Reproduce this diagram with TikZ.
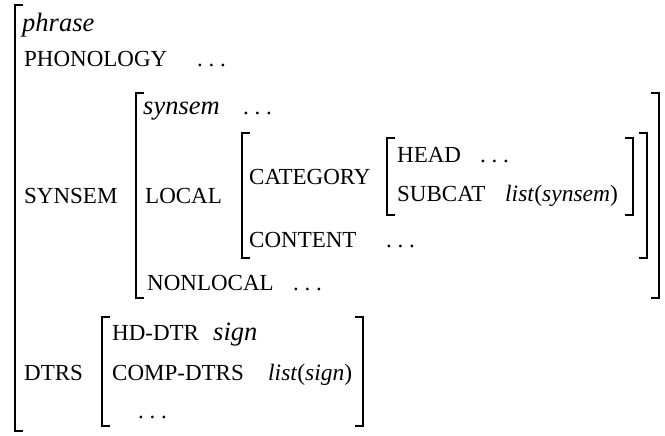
\documentclass[tikz,border=0pt]{standalone}
\usepackage{fontspec}
\setmainfont{Liberation Serif}
\usetikzlibrary{positioning}
\newcommand{\spdots}{.\hspace{0.25em}.\hspace{0.25em}.}
\tikzstyle{feat}=[anchor=base west,inner sep=0pt,font=\fontsize{23}{27}\selectfont]
\tikzstyle{typ}=[anchor=base west,inner sep=0pt,font=\fontsize{26.5}{30}\selectfont\itshape]
\tikzstyle{lst}=[anchor=base west,inner sep=0pt,font=\fontsize{23.5}{27}\selectfont\itshape]
\tikzstyle{brk}=[line width=1.3pt,line cap=rect]

\begin{document}
\begin{tikzpicture}[x=1pt,y=-1pt]
\useasboundingbox (0,0) rectangle (665,436);
% brackets: left ones, then right ones
\foreach \x/\t/\b in {15/5/431, 136/93/298, 242/133/258, 387/138/215, 102/317/426}
    \draw[brk] (\x+7,\t) -- (\x,\t) -- (\x,\b) -- (\x+7,\b);
\foreach \x/\t/\b in {659/93/298, 647/133/258, 633/138/215, 363/317/426}
    \draw[brk] (\x-7,\t) -- (\x,\t) -- (\x,\b) -- (\x-7,\b);
% outer level
\node[typ] (phrase) at (22,32) {phrase};
\node[feat] (phon) at (24,67) {PHONOLOGY};
\node[feat] (phonval) at (197,67) {\spdots};
\node[feat] (synsem) at (24,203) {SYNSEM};
\node[feat] (dtrs) at (24,380) {DTRS};
% synsem
\node[typ] (ssty) at (143,115) {synsem};
\node[feat] (ssval) at (243,115) {\spdots};
\node[feat] (local) at (145,203) {LOCAL};
\node[feat] (nonloc) at (147,290) {NONLOCAL};
\node[feat] (nlval) at (293,290) {\spdots};
% local
\node[feat] (cat) at (249,184) {CATEGORY};
\node[feat] (cont) at (249,247) {CONTENT};
\node[feat] (contval) at (386,247) {\spdots};
% category
\node[feat] (head) at (397,163) {HEAD};
\node[feat] (headval) at (480,163) {\spdots};
\node[feat] (subcat) at (397,201) {SUBCAT};
\node[lst] (subval) at (505,201) {list\/{\upshape(}synsem{\upshape)}};
% daughters
\node[feat] (hd) at (112,340) {HD-DTR};
\node[typ] (hdval) at (213,340) {sign};
\node[feat] (comp) at (112,380) {COMP-DTRS};
\node[lst] (compval) at (268,380) {list\/{\upshape(}sign{\upshape)}};
\node[feat] (more) at (138,418) {\spdots};
\end{tikzpicture}
\end{document}
